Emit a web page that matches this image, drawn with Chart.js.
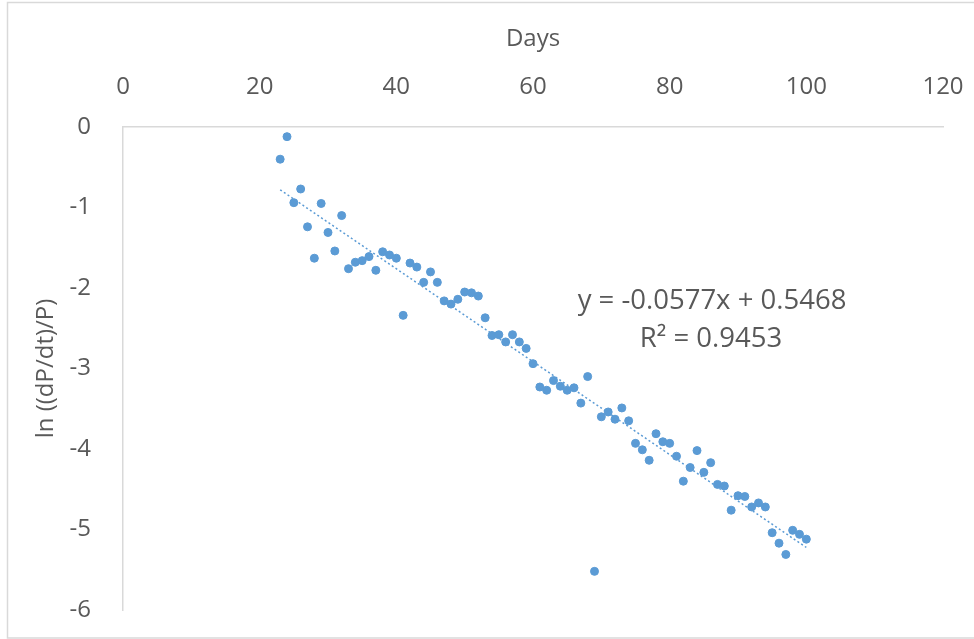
<!DOCTYPE html>
<html lang="en">
<head>
  <meta charset="UTF-8" />
  <title>ln((dP/dt)/P) vs Days</title>
  <script src="https://cdn.jsdelivr.net/npm/chart.js"></script>
  <style>
    body {
      margin: 0;
      background: white;
    }
    .chart-wrap {
      position: relative;
      width: 974px;
      height: 639px;
    }
  </style>
</head>
<body>
  <div class="chart-wrap">
    <canvas id="scatterChart" width="974" height="639"></canvas>
  </div>

  <script>
    // observed data: days 23..100
    const days = [23, 24, 25, 26, 27, 28, 29, 30, 31, 32, 33, 34, 35, 36, 37, 38, 39, 40,
      41, 42, 43, 44, 45, 46, 47, 48, 49, 50, 51, 52, 53, 54, 55, 56, 57, 58, 59, 60,
      61, 62, 63, 64, 65, 66, 67, 68, 69, 70, 71, 72, 73, 74, 75, 76, 77, 78, 79, 80,
      81, 82, 83, 84, 85, 86, 87, 88, 89, 90, 91, 92, 93, 94, 95, 96, 97, 98, 99, 100];
    const lnRate = [-0.40, -0.12, -0.94, -0.77, -1.24, -1.63, -0.95, -1.31, -1.54, -1.10,
      -1.76, -1.68, -1.66, -1.61, -1.78, -1.55, -1.59, -1.63, -2.34, -1.69,
      -1.74, -1.93, -1.80, -1.93, -2.16, -2.20, -2.14, -2.05, -2.06, -2.10,
      -2.37, -2.59, -2.58, -2.67, -2.58, -2.67, -2.75, -2.94, -3.23, -3.27,
      -3.15, -3.22, -3.27, -3.24, -3.43, -3.10, -5.52, -3.60, -3.54, -3.63,
      -3.49, -3.65, -3.93, -4.01, -4.14, -3.81, -3.91, -3.93, -4.09, -4.40,
      -4.23, -4.02, -4.29, -4.17, -4.44, -4.46, -4.76, -4.58, -4.59, -4.72,
      -4.67, -4.72, -5.04, -5.17, -5.31, -5.01, -5.06, -5.12];

    // linear trendline from the reference
    const slope = -0.0577;
    const intercept = 0.5468;
    const trendX = [23, 100];

    const xTicks = [0, 20, 40, 60, 80, 100, 120];
    const yTicks = [0, -1, -2, -3, -4, -5, -6];

    const blue = '#5B9BD5';
    const textGray = '#595959';
    const axisGray = '#D9D9D9';
    const fontFamily = "'Open Sans', 'Liberation Sans', sans-serif";

    const points = days.map((d, i) => ({ x: d, y: lnRate[i] }));
    const trend = trendX.map(x => ({ x: x, y: slope * x + intercept }));

    // outer chart-area frame and the equation label
    const framePlugin = {
      id: 'frame',
      beforeDraw(chart) {
        const c = chart.ctx;
        c.save();
        c.fillStyle = 'white';
        c.fillRect(0, 0, chart.width, chart.height);
        c.strokeStyle = axisGray;
        c.lineWidth = 1.5;
        c.strokeRect(7.5, 2.5, 990, 635.5);
        c.restore();
      },
      afterDraw(chart) {
        const c = chart.ctx;
        c.save();
        c.fillStyle = textGray;
        c.font = "27.5px " + fontFamily;
        c.textAlign = 'center';
        c.textBaseline = 'middle';
        c.fillText('y = -0.0577x + 0.5468', 712, 301);
        c.fillText('R\u00B2 = 0.9453', 711, 339);
        c.restore();
      }
    };

    new Chart(document.getElementById('scatterChart'), {
      type: 'scatter',
      data: {
        datasets: [
          {
            label: 'ln((dP/dt)/P)',
            data: points,
            backgroundColor: blue,
            borderColor: blue,
            pointRadius: 4,
            pointHoverRadius: 4,
            order: 1
          },
          {
            label: 'Linear trend',
            type: 'line',
            data: trend,
            borderColor: blue,
            borderWidth: 1.5,
            borderDash: [2, 2.5],
            pointRadius: 0,
            fill: false,
            order: 2
          }
        ]
      },
      options: {
        responsive: false,
        animation: false,
        layout: { padding: { left: 0, right: 31, top: 0, bottom: 29 } },
        plugins: {
          legend: { display: false },
          tooltip: { enabled: false }
        },
        scales: {
          x: {
            type: 'linear',
            position: 'top',
            min: 0,
            max: 120,
            afterBuildTicks: s => { s.ticks = xTicks.map(v => ({ value: v })); },
            afterFit: s => { s.height = 127; s.paddingLeft = 0; s.paddingRight = 0; },
            grid: { display: false },
            border: { color: axisGray, width: 1.5 },
            ticks: {
              autoSkip: false,
              maxRotation: 0,
              color: textGray,
              font: { size: 24, family: fontFamily },
              padding: 17
            },
            title: {
              display: true,
              text: 'Days',
              color: textGray,
              font: { size: 24, family: fontFamily },
              padding: { top: 25, bottom: 0 }
            }
          },
          y: {
            min: -6,
            max: 0,
            afterBuildTicks: s => { s.ticks = yTicks.map(v => ({ value: v })); },
            afterFit: s => { s.width = 123; s.paddingTop = 0; s.paddingBottom = 0; },
            grid: { display: false },
            border: { color: axisGray, width: 1.5 },
            ticks: {
              autoSkip: false,
              color: textGray,
              font: { size: 24, family: fontFamily },
              padding: 24
            },
            title: {
              display: true,
              text: 'ln ((dP/dt)/P)',
              color: textGray,
              font: { size: 24, family: fontFamily },
              padding: { top: 32, bottom: 0 }
            }
          }
        }
      },
      plugins: [framePlugin]
    });
  </script>
</body>
</html>
